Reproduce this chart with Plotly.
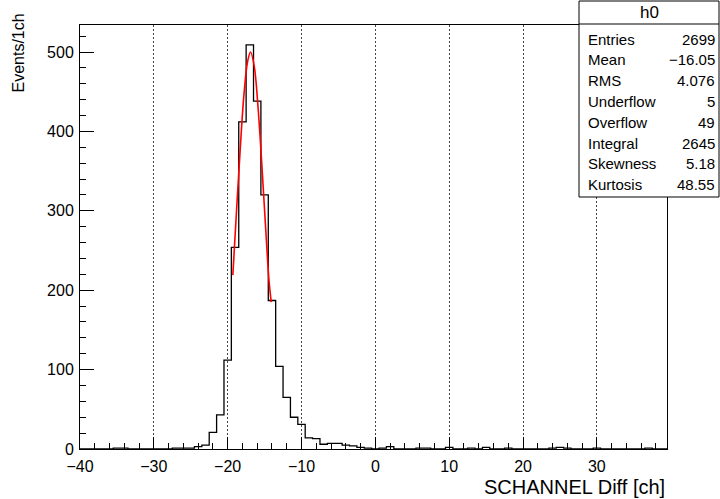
import plotly.graph_objects as go

# ---- data ----
bin_centers = list(range(-40, 40))
counts = [
    0, 0, 0, 0, 0, 1, 1, 0, 0, 0,        # -40 .. -31
    0, 0, 0, 1, 1, 1, 3, 5, 21, 43,      # -30 .. -21
    112, 254, 412, 509, 438, 320, 187, 104, 65, 40,  # -20 .. -11
    31, 14, 13, 6, 7, 7, 5, 4, 2, 1,     # -10 .. -1
    0, 1, 3, 0, 0, 0, 1, 1, 0, 0,        # 0 .. 9
    2, 0, 0, 1, 0, 2, 0, 0, 1, 0,        # 10 .. 19
    0, 0, 0, 0, 1, 2, 1, 0, 0, 0,        # 20 .. 29
    1, 0, 0, 0, 0, 0, 0, 1, 0, 0,        # 30 .. 39
]
bin_width = 1.0

# red gaussian fit curve
fit_x = [-19.3, -18.8, -18.3, -17.8, -17.3, -16.9, -16.4, -15.9, -15.4, -14.9, -14.4, -14.1]
fit_y = [219, 300, 378, 446, 488, 500, 482, 432, 362, 285, 212, 185]

stats_title = "h0"
stats_labels = ["Entries", "Mean", "RMS", "Underflow", "Overflow", "Integral", "Skewness", "Kurtosis"]
stats_values = ["2699", "\u221216.05", "4.076", "5", "49", "2645", "5.18", "48.55"]

x_title = "SCHANNEL Diff [ch]"
y_title = "Events/1ch"

# ---- figure ----
W, H = 720, 499
L, R, T, B = 80, 53, 25, 50
pw, ph = W - L - R, H - T - B

def px2paper_x(px):
    return (px - L) / pw

def py2paper_y(py):
    return (H - B - py) / ph

edges_x = [c - bin_width / 2 for c in bin_centers] + [bin_centers[-1] + bin_width / 2]
edges_y = counts + [counts[-1]]

fig = go.Figure()
fig.add_trace(go.Scatter(
    x=edges_x, y=edges_y, mode="lines", line_shape="hv",
    line=dict(color="black", width=1.3), hoverinfo="skip", showlegend=False,
))
fig.add_trace(go.Scatter(
    x=fit_x, y=fit_y, mode="lines", line_shape="spline",
    line=dict(color="#ff0000", width=1.6), hoverinfo="skip", showlegend=False,
))

font = "Liberation Sans, Arial, Helvetica, sans-serif"

fig.update_layout(
    width=W, height=H,
    margin=dict(l=L, r=R, t=T, b=B, pad=0),
    paper_bgcolor="white", plot_bgcolor="white",
    font=dict(family=font, color="black", size=16),
    showlegend=False,
    xaxis=dict(
        range=[-40, 39.5], tick0=0, dtick=10,
        ticks="inside", ticklen=12, tickwidth=1, tickcolor="black",
        minor=dict(dtick=2, ticks="inside", ticklen=6, tickcolor="black", showgrid=False),
        showgrid=True, gridcolor="#444444", griddash="2px,2px", gridwidth=1,
        showline=True, linecolor="black", linewidth=1, mirror=True,
        zeroline=False, tickfont=dict(size=16, family=font),
        ticklabelstandoff=3,
    ),
    yaxis=dict(
        range=[0, 534], tick0=0, dtick=100,
        ticks="inside", ticklen=14, tickwidth=1, tickcolor="black",
        minor=dict(dtick=20, ticks="inside", ticklen=6, tickcolor="black", showgrid=False),
        showgrid=False,
        showline=True, linecolor="black", linewidth=1, mirror=True,
        zeroline=False, tickfont=dict(size=16, family=font),
        ticklabelstandoff=2,
    ),
)

# axis titles (ROOT style: right/top aligned)
fig.add_annotation(
    x=1.0, y=py2paper_y(487), xref="paper", yref="paper",
    text=x_title, showarrow=False, xanchor="right", yanchor="middle",
    font=dict(size=20, family=font, color="black"),
)
fig.add_annotation(
    x=px2paper_x(18), y=py2paper_y(12), xref="paper", yref="paper",
    text=y_title, showarrow=False, xanchor="center", yanchor="top", textangle=-90,
    font=dict(size=16, family=font, color="black"),
)

# stats box
bx0, bx1 = px2paper_x(579), px2paper_x(719)
by0, by1 = py2paper_y(197), py2paper_y(1)
fig.add_shape(type="rect", xref="paper", yref="paper", x0=bx0, x1=bx1, y0=by0, y1=by1,
              line=dict(color="black", width=1), fillcolor="white", layer="above")
fig.add_shape(type="line", xref="paper", yref="paper", x0=bx0, x1=bx1,
              y0=py2paper_y(24), y1=py2paper_y(24), line=dict(color="black", width=1), layer="above")
fig.add_annotation(
    x=(bx0 + bx1) / 2, y=py2paper_y(13), xref="paper", yref="paper",
    text=stats_title, showarrow=False, xanchor="center", yanchor="middle",
    font=dict(size=17, family=font, color="black"),
)
row_y0, row_dy = 39, 20.8
for i, (lab, val) in enumerate(zip(stats_labels, stats_values)):
    yy = py2paper_y(row_y0 + i * row_dy)
    fig.add_annotation(x=px2paper_x(586), y=yy, xref="paper", yref="paper", text=lab,
                       showarrow=False, xanchor="left", yanchor="middle",
                       font=dict(size=15, family=font, color="black"))
    fig.add_annotation(x=px2paper_x(717), y=yy, xref="paper", yref="paper", text=val,
                       showarrow=False, xanchor="right", yanchor="middle",
                       font=dict(size=15, family=font, color="black"))

fig.write_html("out.html")
